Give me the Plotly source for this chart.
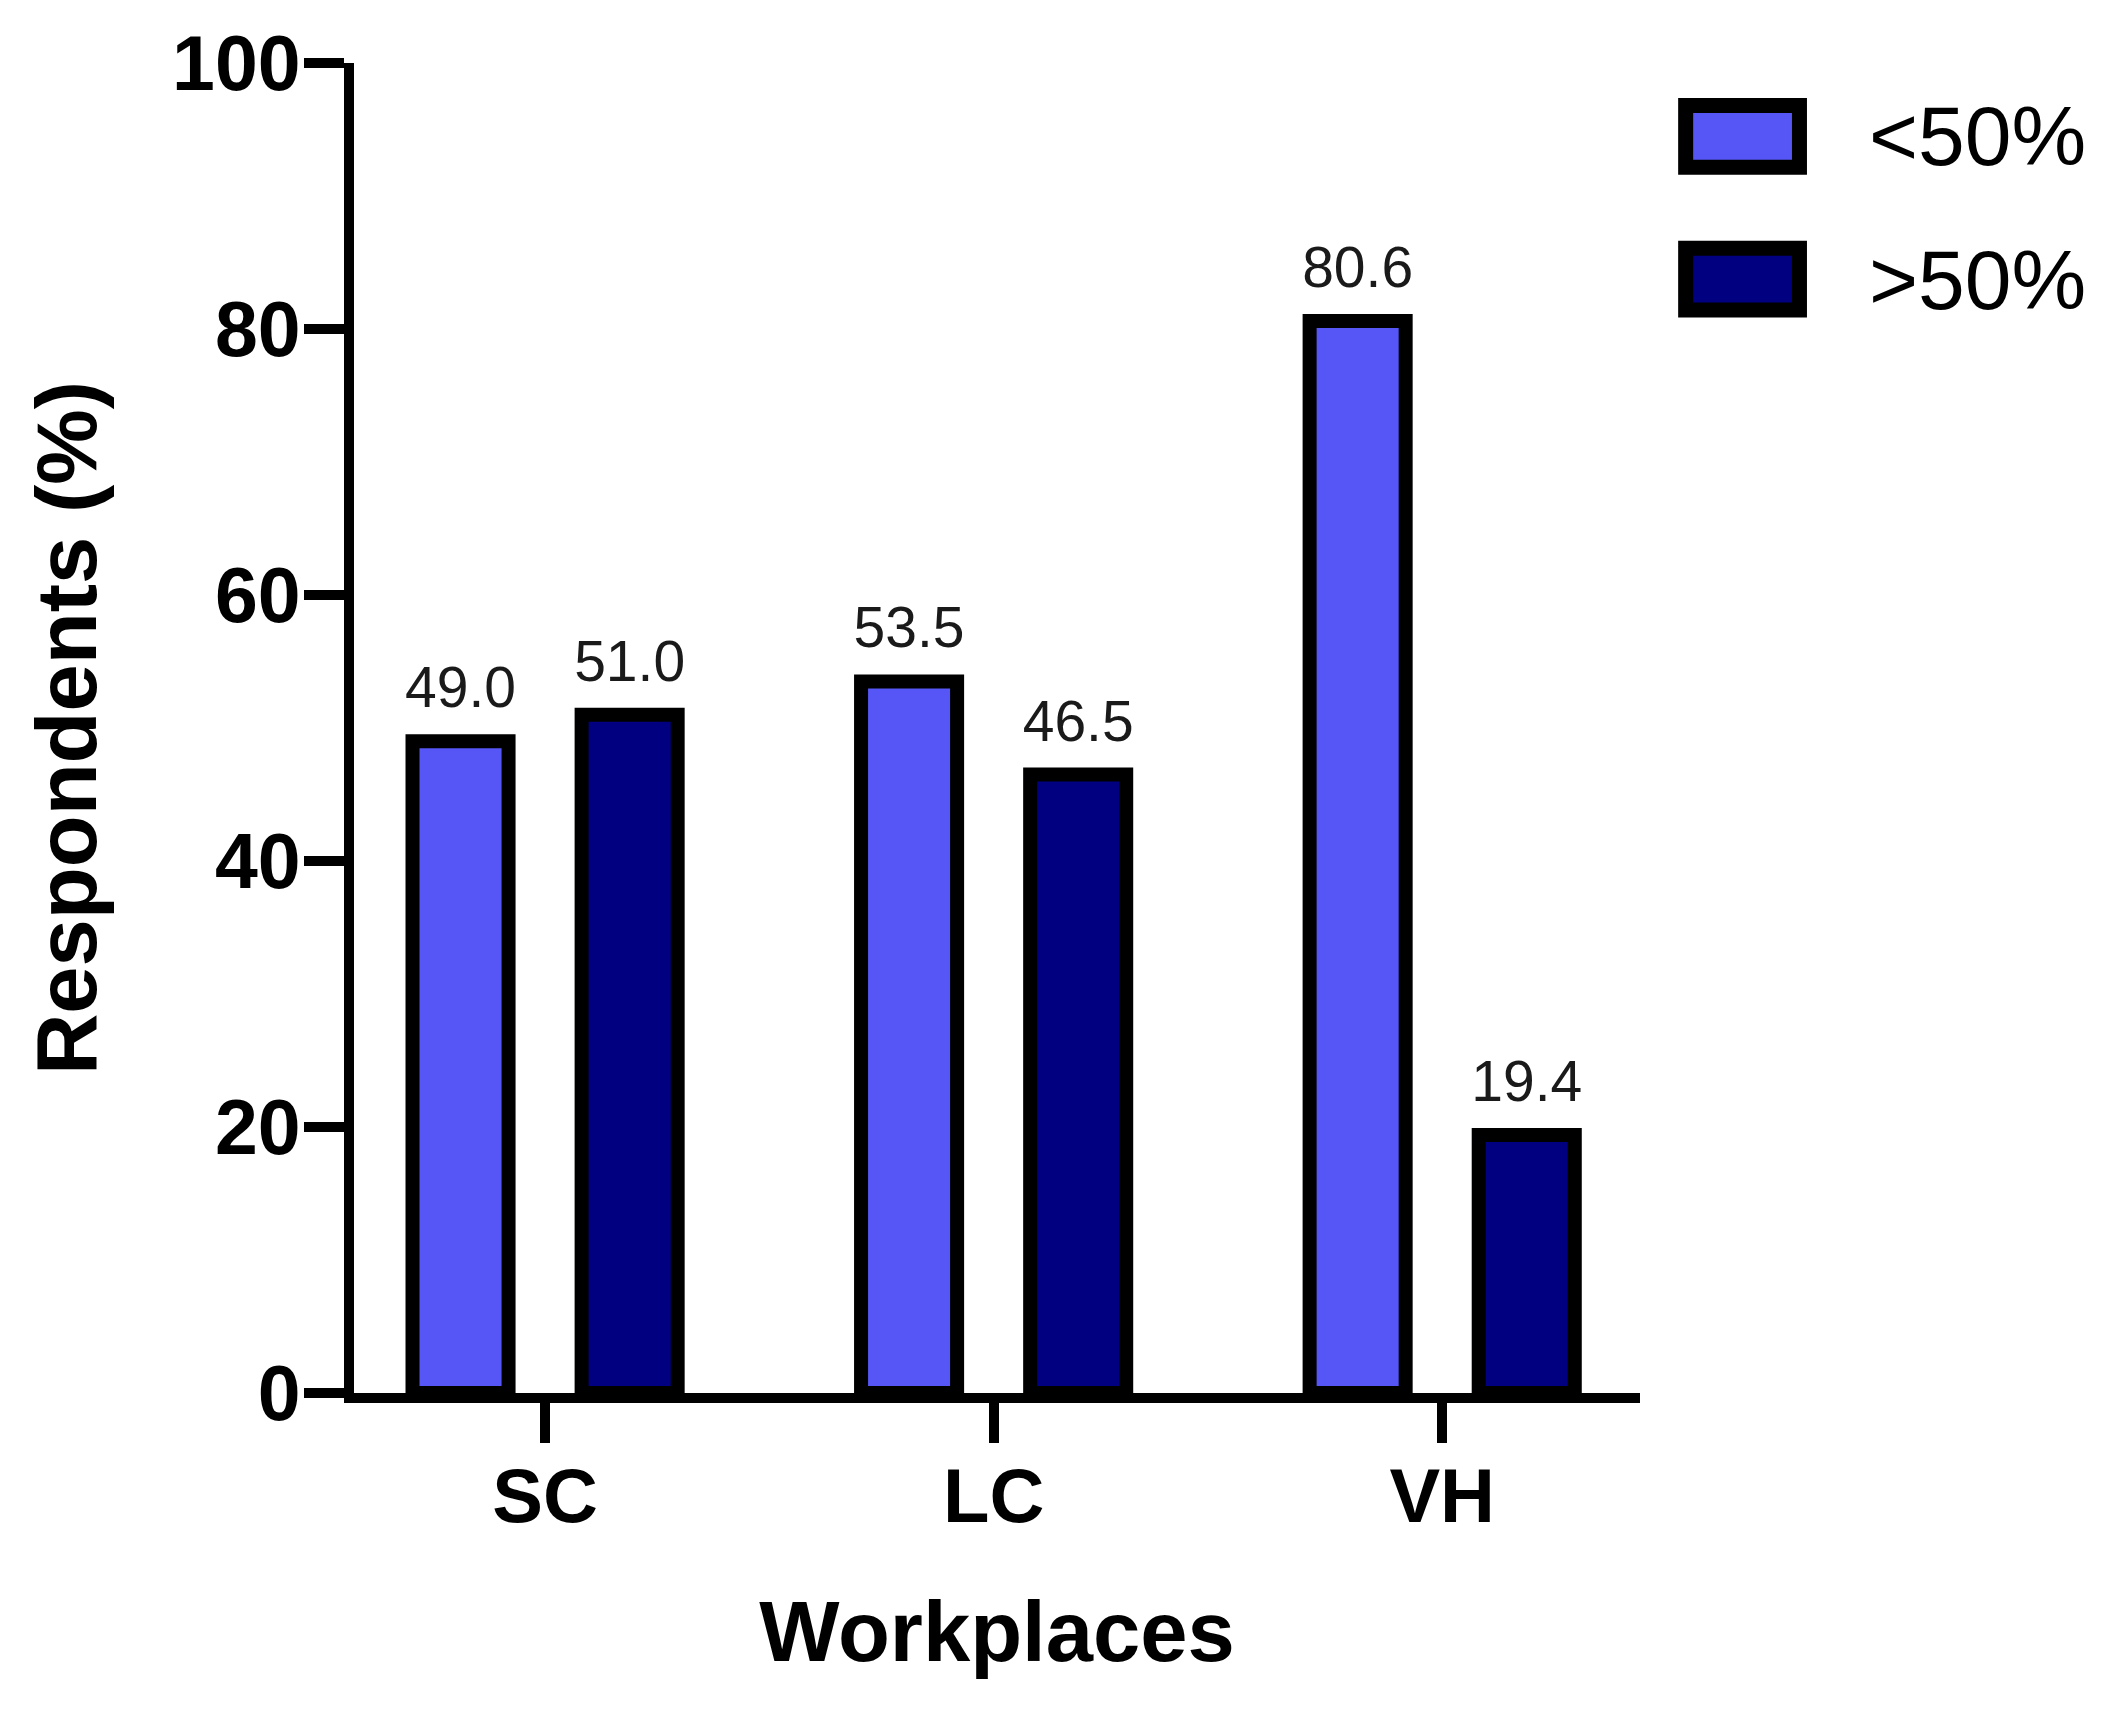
import plotly.graph_objects as go

categories = ["SC", "LC", "VH"]
series_names = ["<50%", ">50%"]
below_50 = [49.0, 53.5, 80.6]
above_50 = [51.0, 46.5, 19.4]
y_ticks = [0, 20, 40, 60, 80, 100]

colors = ["#5656F6", "#000080"]
FONT = "Liberation Sans, Arial, sans-serif"

W, H = 2114, 1718
ML, MR, MT, MB = 346, 482, 52, 333
BARGAP = 0.246

fig = go.Figure()
for name, vals, col in zip(series_names, [below_50, above_50], colors):
    fig.add_trace(go.Bar(
        x=categories, y=vals, name=name,
        marker=dict(color=col, line=dict(color="black", width=14)),
        showlegend=False, hoverinfo="x+y",
    ))

# value labels, grouped the same way as the bars
for name, vals in zip(series_names, [below_50, above_50]):
    fig.add_trace(go.Scatter(
        x=categories, y=vals, name=name + " labels",
        mode="markers+text",
        marker=dict(size=30, opacity=0),
        text=[f"{v:.1f}" for v in vals],
        textposition="top center",
        textfont=dict(family=FONT, size=57, color="#1a1a1a"),
        cliponaxis=False, showlegend=False, hoverinfo="skip",
    ))

# manual legend (large swatches like the reference)
leg_rows = [(0.9681, 0.9216, 0.9452), (0.8608, 0.8143, 0.8372)]
for (y1, y0, yc), name, col in zip(leg_rows, series_names, colors):
    fig.add_shape(type="rect", xref="paper", yref="paper",
                  x0=1.0355, x1=1.1240, y0=y0, y1=y1,
                  fillcolor=col, line=dict(color="black", width=15))
    fig.add_annotation(xref="paper", yref="paper", x=1.1765, y=yc,
                       text=name, showarrow=False, xanchor="left", yanchor="middle",
                       font=dict(family=FONT, size=84, color="black"))

fig.update_layout(
    width=W, height=H,
    margin=dict(l=ML, r=MR, t=MT, b=MB, pad=0),
    paper_bgcolor="white", plot_bgcolor="white",
    barmode="group", bargap=BARGAP, bargroupgap=0.432,
    scattermode="group", scattergap=BARGAP,
    font=dict(family=FONT, color="black"),
    xaxis=dict(
        range=[-0.426, 2.441], showline=True, linecolor="black", linewidth=10,
        ticks="outside", ticklen=40, tickwidth=10, tickcolor="black",
        ticklabelstandoff=-12,
        tickfont=dict(family=FONT, size=76, color="black", weight="bold"),
        showgrid=False, zeroline=False,
        title=dict(text="<b>Workplaces</b>", font=dict(family=FONT, size=85, color="black"), standoff=68),
    ),
    yaxis=dict(
        range=[0, 100], tickvals=y_ticks, showline=True, linecolor="black", linewidth=10,
        ticks="outside", ticklen=40, tickwidth=10, tickcolor="black",
        ticklabelstandoff=-12,
        tickfont=dict(family=FONT, size=77, color="black", weight="bold"),
        showgrid=False, zeroline=False,
        title=dict(text="<b>Respondents (%)</b>", font=dict(family=FONT, size=85, color="black"), standoff=51),
    ),
)

fig.write_html("out.html")
